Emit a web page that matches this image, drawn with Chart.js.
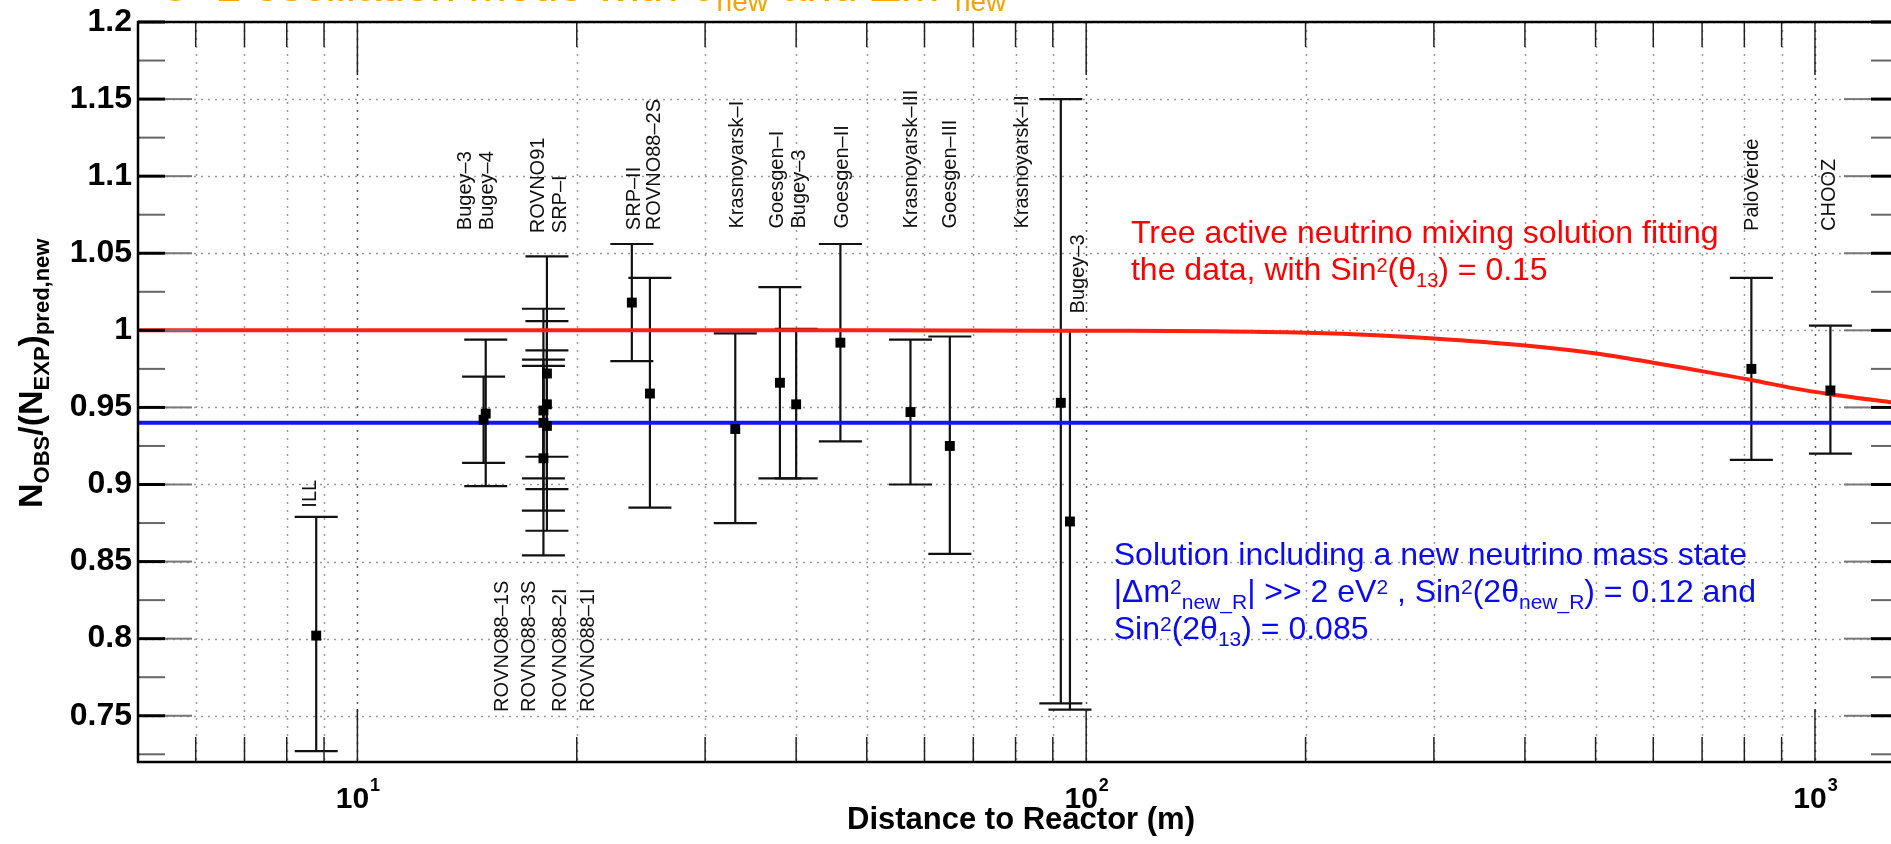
<!DOCTYPE html>
<html>
<head>
<meta charset="utf-8">
<title>Reactor ratios vs distance</title>
<script src="https://cdn.jsdelivr.net/npm/chart.js@4.4.1/dist/chart.umd.min.js"></script>
<style>
  html, body { margin: 0; padding: 0; background: #fff; overflow: hidden; }
  #wrap { width: 1920px; height: 844px; }
</style>
</head>
<body>
<div id="wrap"><canvas id="myChart" width="1920" height="844"></canvas></div>
<script>
var experiments = ['ILL', 'Bugey-4', 'Bugey-3', 'ROVNO91', 'SRP-I', 'ROVNO88-1S', 'ROVNO88-3S', 'ROVNO88-2I', 'ROVNO88-1I',
  'SRP-II', 'ROVNO88-2S', 'Krasnoyarsk-I', 'Goesgen-I', 'Bugey-3', 'Goesgen-II', 'Krasnoyarsk-III', 'Goesgen-III',
  'Krasnoyarsk-II', 'Bugey-3', 'Palo Verde', 'CHOOZ'];
var distance = [8.78, 14.9, 15.0, 18.0, 18.2, 18.2, 18.2, 18.0, 18.0,
  23.8, 25.2, 33.0, 38.0, 40.0, 46.0, 57.4, 65.0,
  92.3, 95.0, 818, 1050];
var ratio = [0.802, 0.942, 0.946, 0.940, 0.952, 0.972, 0.938, 0.948, 0.917,
  1.018, 0.959, 0.936, 0.966, 0.952, 0.992, 0.947, 0.925,
  0.953, 0.876, 0.975, 0.961];
var ratioLow = [0.727, 0.914, 0.899, 0.904, 0.918, 0.897, 0.870, 0.883, 0.854,
  0.980, 0.885, 0.875, 0.904, 0.904, 0.928, 0.900, 0.855,
  0.758, 0.754, 0.916, 0.920];
var ratioHigh = [0.879, 0.970, 0.994, 0.977, 0.987, 1.048, 1.006, 1.014, 0.981,
  1.056, 1.034, 0.998, 1.028, 1.001, 1.056, 0.994, 0.996,
  1.150, 1.000, 1.034, 1.003];

// red: three active neutrino mixing, blue: new mass state solution
var redDistance = [5, 50, 100, 150, 201, 250, 300, 397, 501, 600, 705, 818, 940, 1050, 1270, 1300];
var redRatio = [1.0, 1.0, 0.9997, 0.9994, 0.9984, 0.9968, 0.9947, 0.9903, 0.985, 0.979, 0.9732, 0.9678, 0.9622, 0.9586, 0.9534, 0.9528];
var blueDistance = [5, 1300];
var blueRatio = [0.94, 0.94];

// axes
var xTicks = [6, 7, 8, 9, 10, 20, 30, 40, 50, 60, 70, 80, 90, 100, 200, 300, 400, 500, 600, 700, 800, 900, 1000];
var xDecades = [10, 100, 1000];
var xDecadeExp = ['1', '2', '3'];
var yTicks = [0.75, 0.8, 0.85, 0.9, 0.95, 1.0, 1.05, 1.1, 1.15, 1.2];
var yTickLabels = ['0.75', '0.8', '0.85', '0.9', '0.95', '1', '1.05', '1.1', '1.15', '1.2'];

// experiment names written next to the bars
var tagText = ['ILL', 'Bugey–3', 'Bugey–4', 'ROVNO91', 'SRP–I', 'SRP–II', 'ROVNO88–2S', 'Krasnoyarsk–I', 'Goesgen–I', 'Bugey–3',
  'Goesgen–II', 'Krasnoyarsk–III', 'Goesgen–III', 'Krasnoyarsk–II', 'Bugey–3', 'PaloVerde', 'CHOOZ',
  'ROVNO88–1S', 'ROVNO88–3S', 'ROVNO88–2I', 'ROVNO88–1I'];
var tagX = [8.62, 14.05, 15.08, 17.72, 19.02, 23.99, 25.55, 33.2, 37.67, 40.4,
  46.3, 57.5, 65.1, 81.8, 97.5, 822, 1048,
  15.81, 17.22, 18.99, 20.75];
var tagY = [0.885, 1.065, 1.065, 1.063, 1.063, 1.065, 1.065, 1.066, 1.066, 1.066,
  1.066, 1.066, 1.066, 1.066, 1.011, 1.0645, 1.0645,
  0.7525, 0.7525, 0.7525, 0.7525];

var FONT = '"Liberation Sans", Arial, Helvetica, sans-serif';

// text with sub/superscripts: parts = [[text, 'sub'|'sup'|undefined], ...]
function richText(ctx, x, y, parts, size, small, color, weight) {
  ctx.fillStyle = color;
  ctx.textAlign = 'left';
  ctx.textBaseline = 'alphabetic';
  parts.forEach(function(p){
    var kind = p[1] || '';
    ctx.font = (weight || 'normal') + ' ' + (kind ? small : size) + 'px ' + FONT;
    var dy = kind === 'sub' ? Math.round(size * 0.22) : (kind === 'sup' ? -Math.round(size * 0.25) : 0);
    ctx.fillText(p[0], x, y + dy);
    x += ctx.measureText(p[0]).width;
  });
  return x;
}

function seg(ctx, x1, y1, x2, y2) {
  ctx.beginPath();
  ctx.moveTo(x1, y1);
  ctx.lineTo(x2, y2);
  ctx.stroke();
}

var decorations = {
  id: 'decorations',

  beforeDatasetsDraw: function(chart){
    var ctx = chart.ctx, xs = chart.scales.x, ys = chart.scales.y, a = chart.chartArea;
    ctx.save();

    // dotted grid
    ctx.lineWidth = 1.5;
    ctx.setLineDash([2, 6]);
    xTicks.forEach(function(v){
      var px = Math.round(xs.getPixelForValue(v)) + 0.5;
      ctx.strokeStyle = xDecades.indexOf(v) >= 0 ? '#5a5a5a' : '#999';
      seg(ctx, px, a.top, px, a.bottom);
    });
    ctx.setLineDash([2, 5]);
    ctx.strokeStyle = '#999';
    yTicks.forEach(function(v){
      var py = Math.round(ys.getPixelForValue(v)) + 0.5;
      seg(ctx, a.left, py, a.right, py);
    });
    ctx.setLineDash([]);

    // error bars
    ctx.strokeStyle = '#111';
    ctx.lineWidth = 2.2;
    for (var i = 0; i < distance.length; i++) {
      var px = xs.getPixelForValue(distance[i]);
      var lo = ys.getPixelForValue(ratioLow[i]);
      var hi = ys.getPixelForValue(ratioHigh[i]);
      seg(ctx, px, lo, px, hi);
      seg(ctx, px - 21.5, lo, px + 21.5, lo);
      seg(ctx, px - 21.5, hi, px + 21.5, hi);
    }
    ctx.restore();
  },

  afterDraw: function(chart){
    var ctx = chart.ctx, xs = chart.scales.x, ys = chart.scales.y, a = chart.chartArea;
    ctx.save();

    // inner ticks on all four sides
    ctx.strokeStyle = '#222';
    ctx.lineWidth = 1.5;
    xTicks.forEach(function(v){
      var px = xs.getPixelForValue(v);
      var len = xDecades.indexOf(v) >= 0 ? 53 : 25;
      seg(ctx, px, a.bottom, px, a.bottom - len);
      seg(ctx, px, a.top, px, a.top + len);
    });
    yTicks.forEach(function(v){
      var py = ys.getPixelForValue(v);
      ctx.strokeStyle = '#000'; ctx.lineWidth = 3;
      seg(ctx, a.left, py, a.left + 27, py);
      seg(ctx, a.right, py, a.right - 27, py);
      ctx.strokeStyle = '#777'; ctx.lineWidth = 2;
      seg(ctx, a.left + 27, py, a.left + 54, py);
      seg(ctx, a.right - 27, py, a.right - 54, py);
      var pm = ys.getPixelForValue(v - 0.025);
      ctx.strokeStyle = '#666';
      seg(ctx, a.left, pm, a.left + 27, pm);
      seg(ctx, a.right, pm, a.right - 27, pm);
    });

    // frame
    ctx.strokeStyle = '#000';
    ctx.lineWidth = 2.5;
    ctx.strokeRect(a.left, a.top, a.right - a.left, a.bottom - a.top);

    // x tick labels 10^n
    xDecades.forEach(function(v, i){
      var px = xs.getPixelForValue(v);
      ctx.font = 'bold 30px ' + FONT;
      var w10 = ctx.measureText('10').width;
      ctx.font = 'bold 18px ' + FONT;
      var x0 = px - (w10 + ctx.measureText(xDecadeExp[i]).width) / 2;
      ctx.fillStyle = '#000';
      ctx.textAlign = 'left';
      ctx.textBaseline = 'alphabetic';
      ctx.font = 'bold 30px ' + FONT;
      ctx.fillText('10', x0, 808);
      ctx.font = 'bold 18px ' + FONT;
      ctx.fillText(xDecadeExp[i], x0 + w10 + 1, 791);
    });

    // axis titles
    ctx.fillStyle = '#000';
    ctx.font = 'bold 31px ' + FONT;
    ctx.textAlign = 'center';
    ctx.fillText('Distance to Reactor (m)', (a.left + a.right) / 2 + 3, 829);

    ctx.save();
    ctx.translate(42, 508);
    ctx.rotate(-Math.PI / 2);
    richText(ctx, 0, 0, [['N'], ['OBS', 'sub'], ['/(N'], ['EXP', 'sub'], [')'], ['pred,new', 'sub']], 34, 22, '#000', 'bold');
    ctx.restore();

    // experiment names, rotated
    ctx.font = '20px ' + FONT;
    ctx.fillStyle = '#111';
    ctx.textAlign = 'left';
    ctx.textBaseline = 'middle';
    for (var i = 0; i < tagText.length; i++) {
      ctx.save();
      ctx.translate(xs.getPixelForValue(tagX[i]), ys.getPixelForValue(tagY[i]));
      ctx.rotate(-Math.PI / 2);
      ctx.fillText(tagText[i], 0, 0);
      ctx.restore();
    }

    // red note
    var rx = xs.getPixelForValue(115.2), ry = ys.getPixelForValue(1.0568);
    richText(ctx, rx, ry, [['Tree active neutrino mixing solution fitting']], 32, 20, '#ff0000');
    richText(ctx, rx, ry + 37.7, [['the data, with Sin'], ['2', 'sup'], ['(θ'], ['13', 'sub'], [') = 0.15']], 32, 20, '#ff0000');

    // blue note
    var bx = xs.getPixelForValue(109.1), by = ys.getPixelForValue(0.8477);
    richText(ctx, bx, by, [['Solution including a new neutrino mass state']], 32, 21, '#0a0af5');
    richText(ctx, bx, by + 36.7, [['|Δm'], ['2', 'sup'], ['new_R', 'sub'], ['| >> 2 eV'], ['2', 'sup'], [' , Sin'], ['2', 'sup'],
      ['(2θ'], ['new_R', 'sub'], [') = 0.12 and']], 32, 21, '#0a0af5');
    richText(ctx, bx, by + 73.4, [['Sin'], ['2', 'sup'], ['(2θ'], ['13', 'sub'], [') = 0.085']], 32, 21, '#0a0af5');

    // page title, mostly cut off by the top edge
    richText(ctx, 163, 1, [['3+1 oscillation mode with θ'], ['new', 'sub'], [' and Δm'], ['2', 'sup'], ['new', 'sub']], 46, 28, '#f7a400');

    ctx.restore();
  }
};

var points = distance.map(function(d, i){ return {x: d, y: ratio[i]}; });
var redLine = redDistance.map(function(d, i){ return {x: d, y: redRatio[i]}; });
var blueLine = blueDistance.map(function(d, i){ return {x: d, y: blueRatio[i]}; });

var myChart = new Chart(document.getElementById('myChart').getContext('2d'), {
  type: 'scatter',
  data: {
    datasets: [
      {
        label: 'data',
        data: points,
        pointStyle: 'rect',
        pointRadius: 7,
        backgroundColor: '#000',
        borderWidth: 0,
        order: 0
      },
      {
        type: 'line',
        label: 'three active',
        data: redLine,
        borderColor: '#ff2010',
        borderWidth: 4,
        pointRadius: 0,
        cubicInterpolationMode: 'monotone',
        order: 1
      },
      {
        type: 'line',
        label: 'new mass state',
        data: blueLine,
        borderColor: '#1414ff',
        borderWidth: 4,
        pointRadius: 0,
        order: 2
      }
    ]
  },
  options: {
    responsive: false,
    animation: false,
    events: [],
    layout: { padding: { top: 18, right: 22, bottom: 0, left: 0 } },
    plugins: { legend: { display: false }, tooltip: { enabled: false } },
    scales: {
      x: {
        type: 'logarithmic',
        min: 5,
        max: 1300,
        grid: { display: false },
        border: { display: false },
        ticks: { display: false },
        afterFit: function(scale){ scale.height = 82; }
      },
      y: {
        type: 'linear',
        min: 0.72,
        max: 1.2,
        grid: { display: false, drawTicks: false },
        border: { display: false },
        afterBuildTicks: function(scale){
          scale.ticks = yTicks.map(function(v){ return {value: v}; });
        },
        ticks: {
          autoSkip: false,
          padding: 6,
          color: '#000',
          font: { family: FONT, size: 32, weight: 'bold', lineHeight: 1 },
          callback: function(value){ return yTickLabels[yTicks.indexOf(value)]; }
        },
        afterFit: function(scale){ scale.width = 138; }
      }
    }
  },
  plugins: [decorations]
});
</script>
</body>
</html>
